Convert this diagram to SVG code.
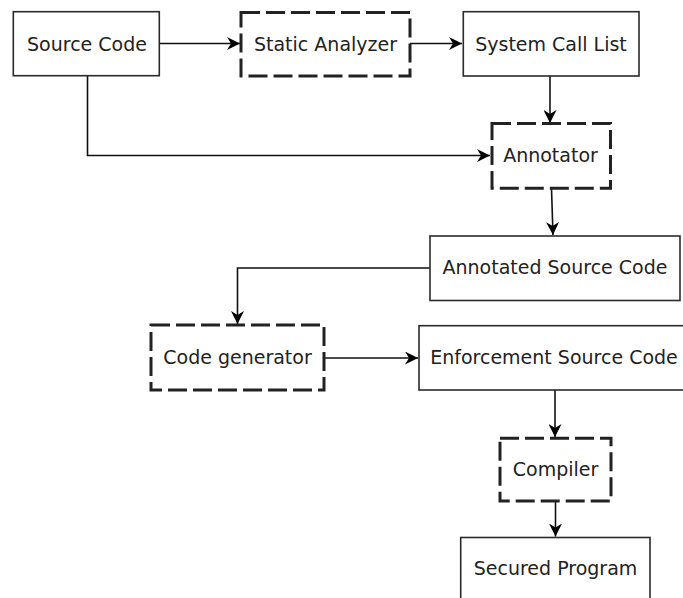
<svg xmlns="http://www.w3.org/2000/svg" width="683" height="598" viewBox="0 0 683 598">
<style>
.box{fill:#fff;stroke:#2a2a2a;stroke-width:1.6}
.dash{fill:#fff;stroke:#222;stroke-width:3;stroke-dasharray:19 6}
.lbl{font-family:"DejaVu Sans",sans-serif;font-size:19px;fill:#222;text-anchor:middle}
.edge{fill:none;stroke:#111;stroke-width:1.6}
</style>
<defs>
<marker id="arr" markerUnits="userSpaceOnUse" markerWidth="14" markerHeight="13" refX="13" refY="6.5" orient="auto">
<path d="M0,0 L13,6.5 L0,13 L4,6.5 Z" fill="#000"/>
</marker>
</defs>
<rect width="683" height="598" fill="#fff"/>
<g id="connectors">
<line class="edge" x1="159.5" y1="43.5" x2="240" y2="43.5" marker-end="url(#arr)"/>
<line class="edge" x1="410" y1="43.5" x2="462" y2="43.5" marker-end="url(#arr)"/>
<line class="edge" x1="550" y1="76" x2="550" y2="123" marker-end="url(#arr)"/>
<polyline class="edge" points="87.5,76 87.5,155.5 490,155.5" marker-end="url(#arr)"/>
<line class="edge" x1="551.5" y1="188.5" x2="553" y2="235" marker-end="url(#arr)"/>
<polyline class="edge" points="430,268 237.5,268 237.5,324" marker-end="url(#arr)"/>
<line class="edge" x1="324" y1="358" x2="418" y2="358" marker-end="url(#arr)"/>
<line class="edge" x1="555" y1="390" x2="555" y2="437" marker-end="url(#arr)"/>
<line class="edge" x1="555.5" y1="501" x2="555.5" y2="536.5" marker-end="url(#arr)"/>
</g>
<g id="source-code">
<rect class="box" x="13.3" y="11.7" width="146" height="64"/>
<text class="lbl" x="87" y="50.5">Source Code</text>
</g>
<g id="static-analyzer">
<rect class="dash" x="241" y="12.5" width="169" height="63.5"/>
<text class="lbl" x="325.5" y="50.5">Static Analyzer</text>
</g>
<g id="system-call-list">
<rect class="box" x="463.3" y="11.7" width="175.7" height="64.3"/>
<text class="lbl" x="551" y="50.5">System Call List</text>
</g>
<g id="annotator">
<rect class="dash" x="492" y="123.5" width="118.5" height="64.8"/>
<text class="lbl" x="550.5" y="162">Annotator</text>
</g>
<g id="annotated-source-code">
<rect class="box" x="430" y="236" width="250" height="64.5"/>
<text class="lbl" x="555" y="274">Annotated Source Code</text>
</g>
<g id="code-generator">
<rect class="dash" x="151" y="325" width="173" height="65"/>
<text class="lbl" x="237.5" y="364">Code generator</text>
</g>
<g id="enforcement-source-code">
<rect class="box" x="419" y="325.7" width="271" height="64.3"/>
<text class="lbl" x="554" y="364">Enforcement Source Code</text>
</g>
<g id="compiler">
<rect class="dash" x="500" y="438.3" width="111" height="62.7"/>
<text class="lbl" x="555.5" y="475.5">Compiler</text>
</g>
<g id="secured-program">
<rect class="box" x="460.7" y="537.5" width="189.3" height="70"/>
<text class="lbl" x="555.5" y="575">Secured Program</text>
</g>
</svg>
